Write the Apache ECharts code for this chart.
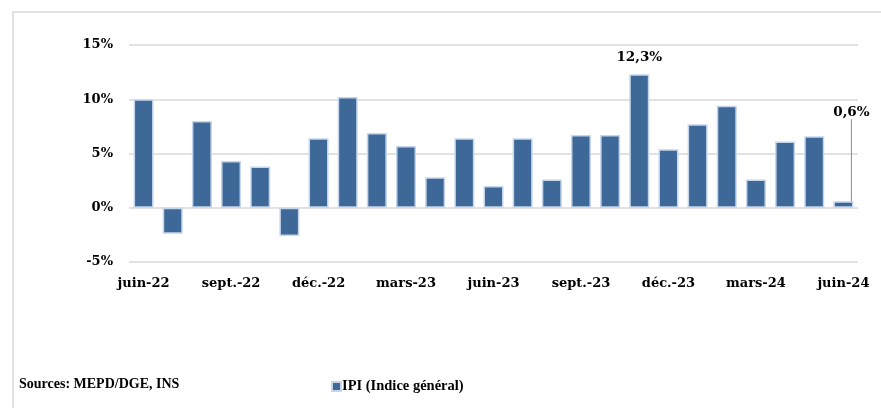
<!DOCTYPE html>
<html>
<head>
<meta charset="utf-8">
<script src="https://cdn.jsdelivr.net/npm/echarts@6/dist/echarts.min.js"></script>
<style>
  html, body { margin: 0; padding: 0; background: #fff; }
  #chart { width: 881px; height: 408px; }
</style>
</head>
<body>
<div id="chart"></div>
<script>
// IPI glissement annuel, juin-22 .. juin-24
const months = [
  'juin-22', 'juil.-22', 'août-22', 'sept.-22', 'oct.-22', 'nov.-22',
  'déc.-22', 'janv.-23', 'févr.-23', 'mars-23', 'avr.-23', 'mai-23',
  'juin-23', 'juil.-23', 'août-23', 'sept.-23', 'oct.-23', 'nov.-23',
  'déc.-23', 'janv.-24', 'févr.-24', 'mars-24', 'avr.-24', 'mai-24', 'juin-24'
]
const ipi = [
  10.0, -2.4, 8.0, 4.3, 3.8, -2.6, 6.4, 10.2, 6.9, 5.7, 2.8, 6.4,
  2.0, 6.4, 2.6, 6.7, 6.7, 12.3, 5.4, 7.7, 9.4, 2.6, 6.1, 6.6, 0.6
]
const labelled = [17, 24]
const yTicks = { min: -5, max: 15, step: 5 }

const axisFont = '"DejaVu Serif", serif'
const textFont = '"Liberation Serif", serif'
const fmt = v => v.toFixed(1).replace('.', ',') + '%'

const chart = echarts.init(document.getElementById('chart'))
chart.setOption({
  animation: false,
  textStyle: { fontFamily: axisFont },
  grid: { left: 129, right: 23, top: 45, bottom: 146 },
  legend: {
    left: 326,
    top: 374,
    itemWidth: 9,
    itemHeight: 9,
    icon: 'rect',
    textStyle: { fontFamily: textFont, fontWeight: 'bold', fontSize: 14.5, color: '#000', padding: [0, 0, 0, -4] },
    data: ['IPI (Indice général)']
  },
  graphic: [
    {
      type: 'rect',
      silent: true,
      shape: { x: 13, y: 12, width: 900, height: 420 },
      style: { fill: 'none', stroke: '#d9d9d9', lineWidth: 1.5 }
    },
    {
      type: 'text',
      left: 19,
      top: 377,
      style: { text: 'Sources: MEPD/DGE, INS', font: 'bold 14px ' + textFont, fill: '#000' }
    }
  ],
  xAxis: {
    type: 'category',
    data: months,
    axisLine: { show: false },
    axisTick: { show: false },
    axisLabel: {
      interval: 2,
      margin: 15,
      fontSize: 13,
      fontWeight: 'bold',
      color: '#000'
    }
  },
  yAxis: {
    type: 'value',
    min: yTicks.min,
    max: yTicks.max,
    interval: yTicks.step,
    axisLabel: {
      formatter: '{value}%',
      margin: 16,
      fontSize: 13,
      fontWeight: 'bold',
      color: '#000'
    },
    splitLine: { lineStyle: { color: '#d9d9d9', width: 1.5 } }
  },
  series: [
    {
      name: 'IPI (Indice général)',
      type: 'bar',
      barWidth: 20,
      itemStyle: { color: '#3d6898', borderColor: '#c5d6ec', borderWidth: 1.5 },
      data: ipi.map((v, i) => labelled.includes(i) ? {
        value: v,
        label: {
          show: true,
          position: 'top',
          distance: 10,
          formatter: p => fmt(p.value),
          fontSize: 13.5,
          fontWeight: 'bold',
          color: '#000'
        },
        labelLine: { show: i === 24, lineStyle: { color: '#8c8c8c', width: 1 } }
      } : v),
      labelLayout: p => p.dataIndex === 24 ? { dx: 8, dy: -72 } : {}
    }
  ]
})
</script>
</body>
</html>
